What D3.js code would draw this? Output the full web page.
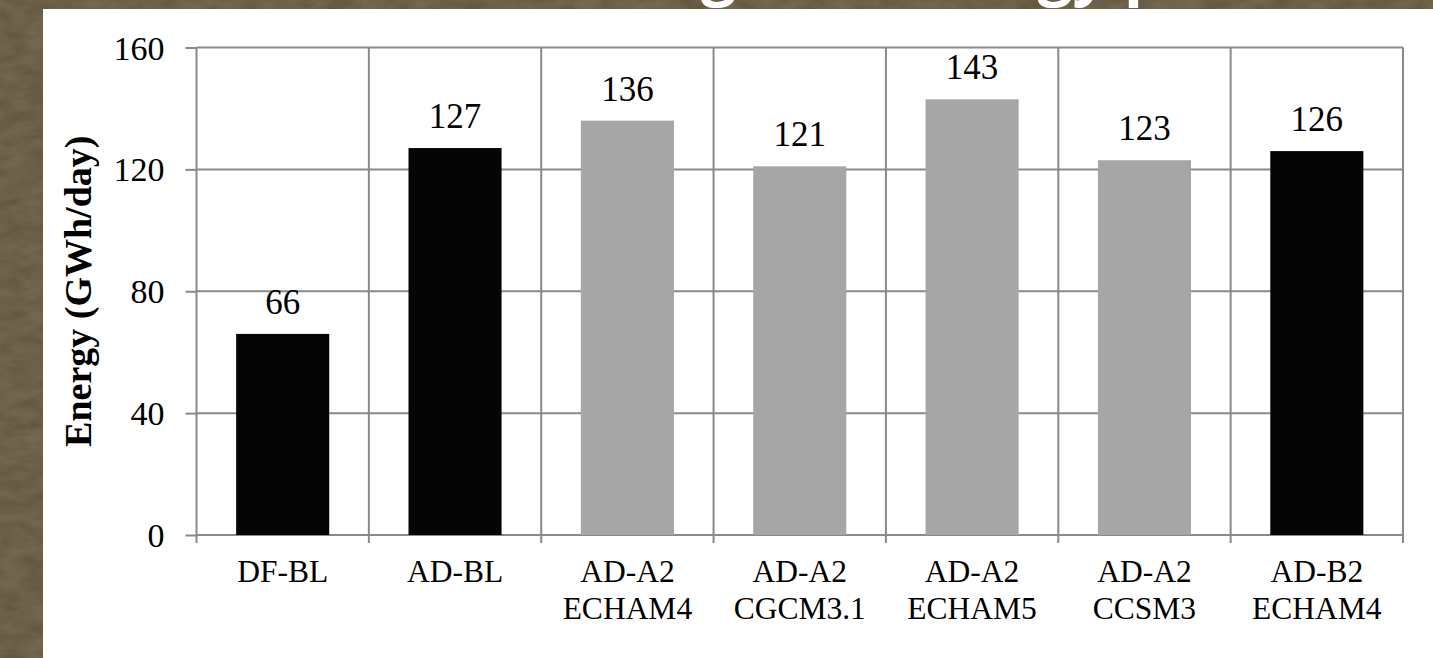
<!DOCTYPE html>
<html>
<head>
<meta charset="utf-8">
<script src="https://cdn.jsdelivr.net/npm/d3@7"></script>
<style>
  html, body { margin: 0; padding: 0; background: #64573f; }
  svg { display: block; }
</style>
</head>
<body>
<svg id="chart" width="1433" height="658"></svg>
<script>
// Daily energy per scenario / climate model
const categories = ["DF-BL", "AD-BL", "AD-A2 ECHAM4", "AD-A2 CGCM3.1", "AD-A2 ECHAM5", "AD-A2 CCSM3", "AD-B2 ECHAM4"];
const scenarios  = ["BL", "BL", "A2", "A2", "A2", "A2", "B2"];
const values     = [66, 127, 136, 121, 143, 123, 126];
const yTicks     = [0, 40, 80, 120, 160];
const titleText  = "Changes in energy production";
const yTitle     = "Energy (GWh/day)";

const W = 1433, H = 658;
const svg = d3.select("#chart");

// slide background with a little grain
const defs = svg.append("defs");
const grain = defs.append("filter").attr("id", "grain")
  .attr("x", 0).attr("y", 0).attr("width", "100%").attr("height", "100%");
grain.append("feTurbulence").attr("type", "fractalNoise")
  .attr("baseFrequency", "0.04 0.09").attr("numOctaves", 4).attr("seed", 7).attr("result", "n");
grain.append("feColorMatrix").attr("in", "n").attr("type", "matrix")
  .attr("values", "0 0 0 0 0.42  0 0 0 0 0.36  0 0 0 0 0.25  0 0 0 -1.2 1.0");

svg.append("rect").attr("width", W).attr("height", H).attr("fill", "#64573f");
svg.append("rect").attr("width", W).attr("height", H).attr("filter", "url(#grain)").attr("opacity", 0.3);

// slide title (runs above the chart panel)
const title = svg.append("text")
  .attr("x", 544).attr("y", -7)
  .attr("fill", "#ffffff")
  .attr("font-family", "'Open Sans', 'DejaVu Sans', sans-serif")
  .attr("font-weight", 700)
  .attr("font-size", 62)
  .text(titleText);
try {
  const gx = title.node().getStartPositionOfChar(4).x;
  title.attr("x", 544 + (701 - gx));
} catch (e) {}

// white chart panel
svg.append("rect").attr("x", 43).attr("y", 9).attr("width", W - 43).attr("height", H - 9).attr("fill", "#ffffff");

// plot area
const plotL = 196.5, plotR = 1403, plotT = 47.5, plotB = 535;
const x = d3.scaleBand().domain(categories).range([plotL, plotR]).padding(0);
const y = d3.scaleLinear().domain([0, 160]).range([plotB, plotT]);
const fill = d3.scaleOrdinal().domain(["BL", "A2", "B2"]).range(["#050505", "#a6a6a6", "#050505"]);

const gridColor = "#8a8a8a";
const serif = "'Liberation Serif', 'Times New Roman', serif";

// horizontal gridlines
svg.append("g").selectAll("line").data(yTicks).join("line")
  .attr("x1", plotL).attr("x2", plotR)
  .attr("y1", d => y(d)).attr("y2", d => y(d))
  .attr("stroke", gridColor).attr("stroke-width", 2);

// vertical lines at category boundaries, running down into tick marks
const bounds = categories.map(c => x(c)).concat([x.range()[1]]);
svg.append("g").selectAll("line").data(bounds).join("line")
  .attr("x1", d => d).attr("x2", d => d)
  .attr("y1", y(160)).attr("y2", y(0) + 8)
  .attr("stroke", gridColor).attr("stroke-width", 2);

// y axis ticks and labels
const yAxis = svg.append("g")
  .attr("transform", `translate(${plotL},0)`)
  .call(d3.axisLeft(y).tickValues(yTicks).tickSize(11).tickPadding(21).tickFormat(d3.format("d")));
yAxis.select(".domain").remove();
yAxis.selectAll(".tick line").attr("stroke", gridColor).attr("stroke-width", 2);
yAxis.selectAll(".tick text")
  .attr("font-family", serif).attr("font-size", 34).attr("fill", "#000")
  .attr("dy", "0.34em");

// bars
const barW = x.bandwidth() * 0.54;
svg.append("g").selectAll("rect").data(values).join("rect")
  .attr("x", (d, i) => x(categories[i]) + (x.bandwidth() - barW) / 2)
  .attr("width", barW)
  .attr("y", d => y(d))
  .attr("height", d => y(0) - y(d))
  .attr("fill", (d, i) => fill(scenarios[i]));

// value labels
svg.append("g").selectAll("text").data(values).join("text")
  .attr("x", (d, i) => x(categories[i]) + x.bandwidth() / 2)
  .attr("y", d => y(d) - 20)
  .attr("text-anchor", "middle")
  .attr("font-family", serif).attr("font-size", 35).attr("fill", "#000")
  .text(d => d);

// category labels (two lines where needed)
const cat = svg.append("g").selectAll("text").data(categories).join("text")
  .attr("text-anchor", "middle")
  .attr("font-family", serif).attr("font-size", 31.5).attr("fill", "#000");
cat.each(function (d) {
  const cx = x(d) + x.bandwidth() / 2;
  d3.select(this).selectAll("tspan").data(d.split(" ")).join("tspan")
    .attr("x", cx)
    .attr("y", (s, j) => 582 + j * 36.5)
    .text(s => s);
});

// y axis title
svg.append("text")
  .attr("transform", `translate(91,${(plotT + plotB) / 2}) rotate(-90)`)
  .attr("text-anchor", "middle")
  .attr("font-family", serif).attr("font-weight", 700).attr("font-size", 38).attr("fill", "#000")
  .text(yTitle);
</script>
</body>
</html>
